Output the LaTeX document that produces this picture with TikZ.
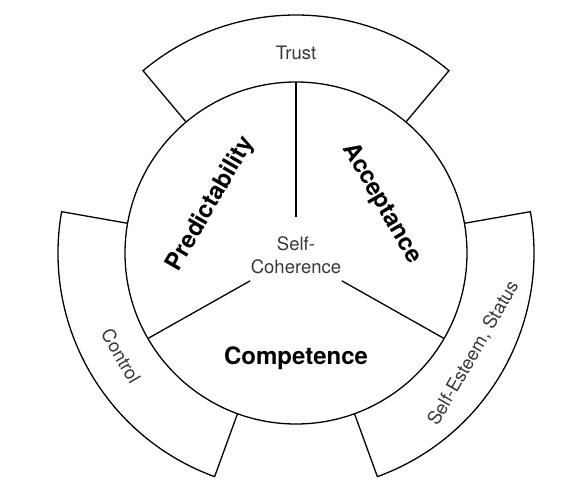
\documentclass[tikz,border=0pt]{standalone}
\usepackage{fontspec}
\setmainfont{TeX Gyre Heros}
\begin{document}
\begin{tikzpicture}[x=1pt,y=1pt,line width=1.3pt,
    big/.style={font=\fontsize{24}{28}\selectfont\bfseries},
    thin/.style={font=\fontsize{18.5}{23}\selectfont,text=black!78},
    band/.style={draw,line join=miter}]
  \useasboundingbox (-296,-250) rectangle (282,253);
    \draw[band] (50:171) -- (50:238) arc[start angle=50,end angle=130,radius=238] -- (130:171);
    \draw[band] (170:171) -- (170:238) arc[start angle=170,end angle=250,radius=238] -- (250:171);
    \draw[band] (290:171) -- (290:238) arc[start angle=290,end angle=370,radius=238] -- (370:171);
    \draw (0,0) circle (171);
  \coordinate (c90) at (90:171);
  \coordinate (c210) at (210:171);
  \coordinate (c330) at (330:171);
    \node[thin,align=center,inner xsep=0pt,inner ysep=7pt] (core) at (0,-2) {Self-\\Coherence};
    \draw ([yshift=12]core.north) -- (c90);
    \draw (core) -- (c210);
    \draw (core) -- (c330);
    \node[big,rotate=60] (pred) at (150:98) {Predictability};
    \node[big,rotate=-60] (acc) at (30:99) {Acceptance};
    \node[big] (comp) at (0,-105) {Competence};
    \node[thin] (trust) at (90:200) {Trust};
    \node[thin,rotate=-60] (ctrl) at (210.5:203) {Control};
    \node[thin,rotate=60] (esteem) at (330.5:204) {Self-Esteem, Status};
\end{tikzpicture}
\end{document}
